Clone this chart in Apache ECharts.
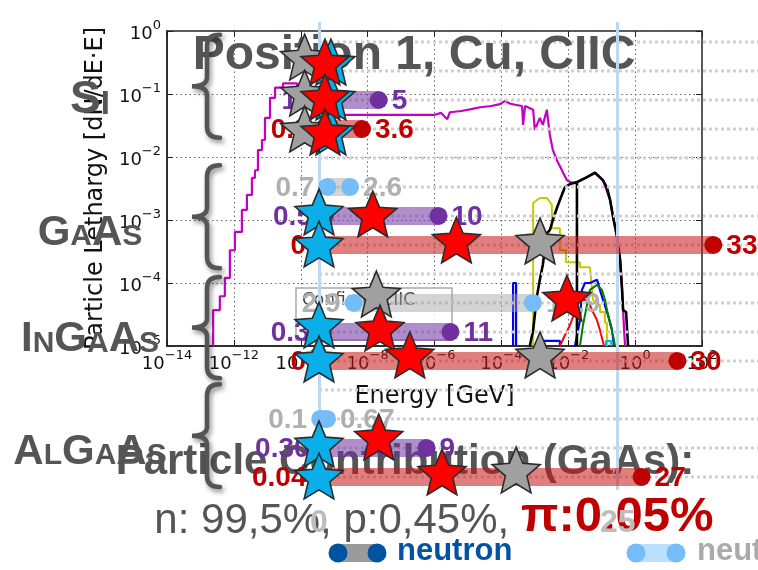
<!DOCTYPE html>
<html>
<head>
<meta charset="utf-8">
<script src="https://cdn.jsdelivr.net/npm/echarts@6/dist/echarts.min.js"></script>
<style>
html, body { margin: 0; padding: 0; background: #fff; }
#chart { width: 758px; height: 570px; }
</style>
</head>
<body>
<div id="chart"></div>
<script>
// ---- Energy spectra: [log10(E / GeV), log10(lethargy)] ----
const spectrumMagenta = [
  [-12.62,-5],[-12.62,-4.43],[-12.42,-4.43],[-12.42,-4.21],[-12.27,-4.21],[-12.27,-3.92],
  [-12.12,-3.92],[-12.12,-3.48],[-11.97,-3.48],[-11.97,-3.19],[-11.76,-3.19],[-11.76,-2.84],
  [-11.61,-2.84],[-11.61,-2.60],[-11.46,-2.60],[-11.46,-2.33],[-11.37,-2.33],[-11.37,-2.21],
  [-11.28,-2.21],[-11.28,-1.89],[-11.16,-1.89],[-11.16,-1.73],[-11.07,-1.73],[-11.07,-1.38],
  [-10.92,-1.38],[-10.92,-1.06],[-10.77,-1.06],[-10.77,-0.90],[-10.53,-0.90],[-10.53,-0.83],
  [-10.11,-0.83],[-10.11,-1.02],[-9.87,-1.02],[-9.87,-1.22],[-9.63,-1.22],[-9.63,-1.33],
  [-5.99,-1.33],[-5.80,-1.30],[-5.62,-1.40],[-5.54,-1.29],[-5.20,-1.27],[-4.90,-1.24],
  [-4.64,-1.21],[-4.30,-1.19],[-4.04,-1.16],[-3.89,-1.11],[-3.75,-1.15],[-3.59,-1.17],
  [-3.38,-1.19],[-3.35,-1.49],[-3.29,-1.19],[-3.05,-1.25],[-3.00,-1.57],[-2.85,-1.38],
  [-2.76,-1.49],[-2.64,-1.25],[-2.55,-1.65],[-2.46,-1.89],[-2.34,-2.05],[-2.19,-2.21],
  [-2.04,-2.37],[-1.89,-2.41],[-1.74,-2.40],[-1.44,-2.32],[-1.20,-2.25],[-0.96,-2.37],
  [-0.75,-2.68],[-0.66,-2.95],[-0.54,-3.27],[-0.45,-3.63],[-0.39,-4.11],[-0.33,-4.75],[-0.30,-5]
];
const spectrumBlack = [
  [-3.15,-5],[-3.05,-4.75],[-2.94,-4.22],[-2.85,-3.95],[-2.76,-3.71],[-2.64,-3.21],
  [-2.55,-3.16],[-2.46,-3.00],[-2.34,-2.81],[-2.19,-2.60],[-2.10,-2.48],[-1.95,-2.43],
  [-1.74,-2.40],[-1.74,-5],[-1.74,-2.40],[-1.44,-2.32],[-1.20,-2.25],[-0.96,-2.37],
  [-0.84,-2.49],[-0.75,-2.68],[-0.66,-2.95],[-0.54,-3.27],[-0.45,-3.63],[-0.39,-4.11],
  [-0.36,-4.43],[-0.27,-4.46],[-0.24,-4.75],[-0.21,-5]
];
const spectrumYellow = [
  [-3.05,-5],[-3.05,-2.73],[-2.85,-2.65],[-2.64,-2.65],[-2.49,-2.76],[-2.49,-3.13],
  [-2.25,-3.13],[-2.25,-3.48],[-2.07,-3.48],[-2.07,-3.67],[-1.65,-3.67],[-1.65,-3.75],
  [-1.35,-3.75],[-1.26,-4.27],[-1.05,-4.35],[-1.05,-4.46],[-0.90,-4.46],[-0.90,-4.63],
  [-0.84,-4.63],[-0.84,-5]
];
const spectrumBlueSpike = [[-3.65,-5],[-3.65,-4.00],[-3.56,-4.00],[-3.56,-5]];
const spectrumBlueLow = [[-2.85,-5],[-2.85,-4.92],[-2.25,-4.92],[-2.25,-5]];
const spectrumBlueBump = [
  [-1.80,-5],[-1.65,-4.59],[-1.59,-4.11],[-1.50,-4.00],[-1.35,-4.00],[-1.14,-3.95],
  [-1.05,-4.11],[-0.96,-4.27],[-0.81,-4.51],[-0.69,-4.75],[-0.63,-5]
];
const spectrumRed = [
  [-2.25,-5],[-2.10,-4.83],[-1.95,-4.67],[-1.80,-4.46],[-1.74,-4.35],[-1.56,-4.27],
  [-1.41,-4.27],[-1.29,-4.43],[-1.14,-4.59],[-1.05,-4.75],[-0.93,-5]
];
const spectrumGreen = [
  [-1.65,-5],[-1.56,-4.67],[-1.44,-4.35],[-1.35,-4.11],[-1.14,-4.03],[-0.99,-4.11],
  [-0.90,-4.27],[-0.81,-4.51],[-0.69,-4.75],[-0.60,-5]
];
const spectrumCyan = [[-0.87,-5],[-0.87,-4.92],[-0.72,-4.92],[-0.72,-5]];

// ---- Contribution ranges per material (rows of the right-hand panel) ----
const groupNames = ['Si', 'GaAs', 'InGaAs', 'AlGaAs'];
const groupSpans = [[-0.25, 3.3], [4.25, 7.8], [8.1, 11.6], [11.8, 15.35]];
const groupLabelRows = [1.93, 6.52, 10.2, 14.07];
const rowIndex = [0, 1, 2, 3, 4, 5, 6, 7, 8, 9, 10, 11, 12, 13, 14, 15];

const neutronRows = [5, 9, 13];
const neutronLow = [0.7, 2.9, 0.1];
const neutronHigh = [2.6, 17.9, 0.67];
const neutronLowText = ['0.7', '2.9', '0.1'];
const neutronHighText = ['2.6', '17.9', '0.67'];

const purpleRows = [2, 6, 10, 14];
const purpleLow = [1.2, 0.5, 0.3, 0.30];
const purpleHigh = [5, 10, 11, 9];
const purpleLowText = ['1.2', '0.5', '0.3', '0.30'];
const purpleHighText = ['5', '10', '11', '9'];

const redRows = [3, 7, 11, 15];
const redLow = [0.3, 0, 0, 0.04];
const redHigh = [3.6, 33, 30, 27];
const redLowText = ['0.3', '0', '0', '0.04'];
const redHighText = ['3.6', '33', '30', '27'];

// star markers: [value, row]
const blueStars = [[1.0,0.69],[1.0,1.9],[1.0,3.1],[0,5.86],[0,6.97],[0,9.76],[0,10.93],[0,13.86],[0,14.97]];
const greyStars = [[-1.2,0.52],[-1.2,1.76],[-1.2,3.0],[18.5,6.86],[4.8,8.69],[18.5,10.79],[16.5,14.76]];
const redStars = [[0.5,0.69],[0.5,1.9],[0.5,3.1],[4.5,5.93],[11.5,6.83],[20.75,8.83],[5.1,9.86],[7.6,10.79],[5.0,13.62],[10.3,14.83]];

const rangeMax = 36.74;
const rangeInterval = 25;

const SANS = '"Liberation Sans", Arial, sans-serif';
const DEJAVU = '"DejaVu Sans", sans-serif';
const STAR = 'path://M50,0 L63.23,31.8 L97.55,34.55 L71.4,56.95 L79.39,90.45 L50,72.5 L20.61,90.45 L28.6,56.95 L2.45,34.55 L36.77,31.8 Z';

function pow10Label(v) {
  const e = Math.round(v);
  return '{b|10}{s|' + (e < 0 ? '\u2212' + (-e) : String(e)) + '}';
}
const powRich = {
  b: { fontSize: 18, fontFamily: DEJAVU, color: '#111', lineHeight: 24, verticalAlign: 'bottom' },
  s: { fontSize: 13, fontFamily: DEJAVU, color: '#111', lineHeight: 24, verticalAlign: 'top' }
};

function smallCaps(word) {
  return word.split('').map(function (ch) {
    return ch === ch.toUpperCase() ? '{big|' + ch + '}' : '{small|' + ch.toUpperCase() + '}';
  }).join('');
}

function spectrumLine(name, data, color, width) {
  return {
    type: 'line', name: name, data: data, xAxisIndex: 0, yAxisIndex: 0,
    showSymbol: false, symbol: 'none', z: 1, clip: true, silent: true,
    lineStyle: { color: color, width: width }
  };
}

function rangeSeries(name, rows, low, high, lowText, highText, barColor, dotColor, textColor) {
  const data = rows.map(function (r, i) { return [low[i], high[i], r]; });
  return {
    type: 'custom', name: name, xAxisIndex: 1, yAxisIndex: 2, z: 4, clip: false, silent: true,
    data: data,
    encode: { x: [0, 1], y: 2 },
    renderItem: function (params, api) {
      const i = params.dataIndex;
      const lo = api.coord([api.value(0), api.value(2)]);
      const hi = api.coord([api.value(1), api.value(2)]);
      const h = 18;
      const font = 'bold 28px ' + SANS;
      return {
        type: 'group',
        children: [
          { type: 'rect', shape: { x: lo[0], y: lo[1] - h / 2, width: Math.max(hi[0] - lo[0], 0), height: h },
            style: { fill: barColor } },
          { type: 'circle', shape: { cx: lo[0], cy: lo[1], r: 9 }, style: { fill: dotColor } },
          { type: 'circle', shape: { cx: hi[0], cy: hi[1], r: 9 }, style: { fill: dotColor } },
          { type: 'text', x: lo[0] - 13, y: lo[1] + 1,
            style: { text: lowText[i], fill: textColor, font: font, align: 'right', verticalAlign: 'middle' } },
          { type: 'text', x: hi[0] + 13, y: hi[1] + 1,
            style: { text: highText[i], fill: textColor, font: font, align: 'left', verticalAlign: 'middle' } }
        ]
      };
    }
  };
}

function starSeries(name, data, color, z) {
  return {
    type: 'scatter', name: name, data: data, xAxisIndex: 1, yAxisIndex: 2, z: z, clip: false, silent: true,
    symbol: STAR, symbolSize: 48, symbolKeepAspect: true,
    itemStyle: { color: color, borderColor: '#2b2b2b', borderWidth: 1.6, opacity: 1 }
  };
}

const chart = echarts.init(document.getElementById('chart'), null, { renderer: 'canvas' });

const option = {
  animation: false,
  backgroundColor: '#ffffff',
  textStyle: { fontFamily: SANS },
  grid: [
    { left: 167, top: 31, width: 535, height: 315, show: true, borderColor: '#222', borderWidth: 1.5,
      backgroundColor: 'transparent' },
    { left: 319, top: 22, right: 0, height: 468 }
  ],
  xAxis: [
    { gridIndex: 0, type: 'value', min: -14, max: 2, interval: 2, position: 'bottom',
      name: 'Energy [GeV]', nameLocation: 'middle', nameGap: 39,
      nameTextStyle: { fontFamily: DEJAVU, fontSize: 24, color: '#111' },
      axisLine: { onZero: false, lineStyle: { color: '#222', width: 1.5 } },
      axisTick: { inside: true, length: 6, lineStyle: { color: '#222' } },
      axisLabel: { margin: 3, formatter: pow10Label, rich: powRich },
      splitLine: { show: true, lineStyle: { color: '#666', width: 1, type: [1.5, 3] } } },
    { gridIndex: 1, type: 'value', min: 0, max: rangeMax, interval: rangeInterval, position: 'bottom', z: 3.5,
      axisLine: { show: false, onZero: false }, axisTick: { show: false },
      axisLabel: { margin: 17, color: '#bdbdbd', fontSize: 32, fontWeight: 'bold', fontFamily: SANS,
        showMaxLabel: false,
        formatter: function (v) { return v % rangeInterval === 0 ? String(v) : ''; } },
      splitLine: { show: true, showMaxLine: false, lineStyle: { color: '#bcd9f0', width: 3 } } },
    { gridIndex: 0, type: 'value', min: -14, max: 2, interval: 2, position: 'top',
      axisLine: { show: false, onZero: false },
      axisTick: { inside: true, length: 6, lineStyle: { color: '#222' } },
      axisLabel: { show: false }, splitLine: { show: false } }
  ],
  yAxis: [
    { gridIndex: 0, type: 'value', min: -5, max: 0, interval: 1,
      name: 'Particle Lethargy [dN/dE\u00b7E]', nameLocation: 'middle', nameGap: 58, nameRotate: 90,
      nameTextStyle: { fontFamily: DEJAVU, fontSize: 24, color: '#111' },
      axisLine: { onZero: false, lineStyle: { color: '#222', width: 1.5 } },
      axisTick: { inside: true, length: 6, lineStyle: { color: '#222' } },
      axisLabel: { margin: 6, formatter: pow10Label, rich: powRich },
      splitLine: { show: true, lineStyle: { color: '#666', width: 1, type: [1.5, 3] } } },
    { gridIndex: 0, type: 'value', min: -5, max: 0, interval: 1, position: 'right',
      axisLine: { show: false, onZero: false },
      axisTick: { inside: true, length: 6, lineStyle: { color: '#222' } },
      axisLabel: { show: false }, splitLine: { show: false } },
    { gridIndex: 1, type: 'value', inverse: true, min: -0.69, max: 15.45, show: false,
      axisLine: { onZero: false }, splitLine: { show: false } }
  ],
  graphic: {
    elements: [
      // spectrum legend frame
      { type: 'rect', z: 1.5, silent: true,
        shape: { x: 296, y: 288, width: 156, height: 52 },
        style: { fill: 'rgba(255,255,255,0.85)', stroke: '#aaa', lineWidth: 1.5 } },
      { type: 'text', z: 1.6, silent: true, x: 302, y: 301,
        style: { text: 'Config 6_CIIC', font: '17px ' + DEJAVU, fill: '#444', align: 'left', verticalAlign: 'middle' } },
      // headings
      { type: 'text', z: 3, silent: true, x: 414, y: 56,
        style: { text: 'Position 1, Cu, CIIC', font: 'bold 48px ' + SANS, fill: '#555', align: 'center', verticalAlign: 'middle' } },
      { type: 'text', z: 3, silent: true, x: 405, y: 462,
        style: { text: 'Particle Contribution (GaAs):', font: 'bold 42px ' + SANS, fill: '#555', align: 'center', verticalAlign: 'middle' } },
      { type: 'text', z: 3, silent: true, x: 434, y: 517,
        style: {
          text: '{n|n: 99,5%, p:0,45%, }{pi|\u03c0:0.05%}', align: 'center', verticalAlign: 'middle',
          rich: {
            n: { fontSize: 42, fontFamily: SANS, fill: '#555', lineHeight: 50, verticalAlign: 'bottom' },
            pi: { fontSize: 49, fontFamily: SANS, fontWeight: 'bold', fill: '#c00000', lineHeight: 50, verticalAlign: 'bottom' }
          }
        } },
      // bottom legend
      { type: 'rect', z: 3, silent: true, shape: { x: 338, y: 544, width: 39, height: 18 }, style: { fill: '#9b9b9b' } },
      { type: 'circle', z: 3, silent: true, shape: { cx: 338, cy: 553, r: 9.5 }, style: { fill: '#0053a1' } },
      { type: 'circle', z: 3, silent: true, shape: { cx: 377, cy: 553, r: 9.5 }, style: { fill: '#0053a1' } },
      { type: 'text', z: 3, silent: true, x: 397, y: 551,
        style: { text: 'neutron', font: 'bold 31px ' + SANS, fill: '#0053a1', align: 'left', verticalAlign: 'middle' } },
      { type: 'rect', z: 3, silent: true, shape: { x: 627, y: 544, width: 58, height: 18, r: 9 }, style: { fill: '#bcdffb' } },
      { type: 'circle', z: 3, silent: true, shape: { cx: 636, cy: 553, r: 9.5 }, style: { fill: '#74bdf8' } },
      { type: 'circle', z: 3, silent: true, shape: { cx: 676, cy: 553, r: 9.5 }, style: { fill: '#74bdf8' } },
      { type: 'text', z: 3, silent: true, x: 697, y: 551,
        style: { text: 'neutron', font: 'bold 31px ' + SANS, fill: '#aaaaaa', align: 'left', verticalAlign: 'middle' } }
    ]
  },
  series: [
    spectrumLine('magenta', spectrumMagenta, '#c400c4', 2.2),
    spectrumLine('yellow', spectrumYellow, '#c8c800', 2),
    spectrumLine('blue spike', spectrumBlueSpike, '#0000ff', 2.2),
    spectrumLine('blue low', spectrumBlueLow, '#0000ff', 2.2),
    spectrumLine('blue', spectrumBlueBump, '#0000ff', 2.2),
    spectrumLine('red', spectrumRed, '#ff0000', 2),
    spectrumLine('green', spectrumGreen, '#008000', 2),
    spectrumLine('cyan', spectrumCyan, '#00bfbf', 2),
    spectrumLine('black', spectrumBlack, '#000000', 2.6),

    // dotted row guides
    {
      type: 'custom', name: 'rows', xAxisIndex: 1, yAxisIndex: 2, z: 2, clip: false, silent: true,
      data: rowIndex.map(function (r) { return [0, r]; }),
      encode: { x: 0, y: 1 },
      renderItem: function (params, api) {
        const p = api.coord([0, api.value(1)]);
        const cs = params.coordSys;
        return { type: 'line', shape: { x1: p[0], y1: p[1], x2: cs.x + cs.width, y2: p[1] },
          style: { stroke: '#d0d0d0', lineWidth: 3, lineDash: [3, 3] } };
      }
    },

    // material braces and names
    {
      type: 'custom', name: 'groups', xAxisIndex: 1, yAxisIndex: 2, z: 3, clip: false, silent: true,
      data: groupSpans.map(function (s, i) { return [0, s[0], s[1], groupLabelRows[i]]; }),
      encode: { x: 0, y: [1, 2] },
      renderItem: function (params, api) {
        const i = params.dataIndex;
        const top = api.coord([0, api.value(1)]);
        const bot = api.coord([0, api.value(2)]);
        const lab = api.coord([0, api.value(3)]);
        const s = top[0] - 112, t = top[1], b = bot[1], m = (t + b) / 2;
        const path = 'M' + (s + 13) + ',' + t + ' Q' + s + ',' + t + ' ' + s + ',' + (t + 11) +
          ' L' + s + ',' + (m - 9) + ' Q' + s + ',' + m + ' ' + (s - 15) + ',' + m +
          ' Q' + s + ',' + m + ' ' + s + ',' + (m + 9) +
          ' L' + s + ',' + (b - 11) + ' Q' + s + ',' + b + ' ' + (s + 13) + ',' + b;
        const big = i === 0 ? 46 : 42;
        const small = i === 0 ? 33 : 30;
        return {
          type: 'group',
          children: [
            { type: 'path', shape: { pathData: path },
              style: { stroke: '#555', lineWidth: 4.5, fill: null, lineCap: 'round',
                shadowBlur: 5, shadowColor: 'rgba(0,0,0,0.45)', shadowOffsetX: 2, shadowOffsetY: 3 } },
            { type: 'text', x: lab[0] - 229, y: lab[1],
              style: {
                text: smallCaps(groupNames[i]), align: 'center', verticalAlign: 'middle', fill: '#555',
                rich: {
                  big: { fontSize: big, fontWeight: 'bold', fontFamily: SANS, fill: '#555', lineHeight: big + 4, verticalAlign: 'bottom' },
                  small: { fontSize: small, fontWeight: 'bold', fontFamily: SANS, fill: '#555', lineHeight: big + 4, verticalAlign: 'bottom', padding: [0, 0, 2, 0] }
                }
              } }
          ]
        };
      }
    },

    rangeSeries('neutron', neutronRows, neutronLow, neutronHigh, neutronLowText, neutronHighText,
      'rgba(160,160,160,0.45)', '#74bdf8', '#b0b0b0'),
    rangeSeries('purple', purpleRows, purpleLow, purpleHigh, purpleLowText, purpleHighText,
      'rgba(112,48,160,0.55)', '#7030a0', '#7030a0'),
    rangeSeries('red', redRows, redLow, redHigh, redLowText, redHighText,
      'rgba(200,20,20,0.55)', '#c00000', '#c00000'),

    starSeries('blue stars', blueStars, '#0aaee8', 5),
    starSeries('grey stars', greyStars, '#a0a0a0', 6),
    starSeries('red stars', redStars, '#ff0000', 7)
  ]
};

chart.setOption(option);
</script>
</body>
</html>
